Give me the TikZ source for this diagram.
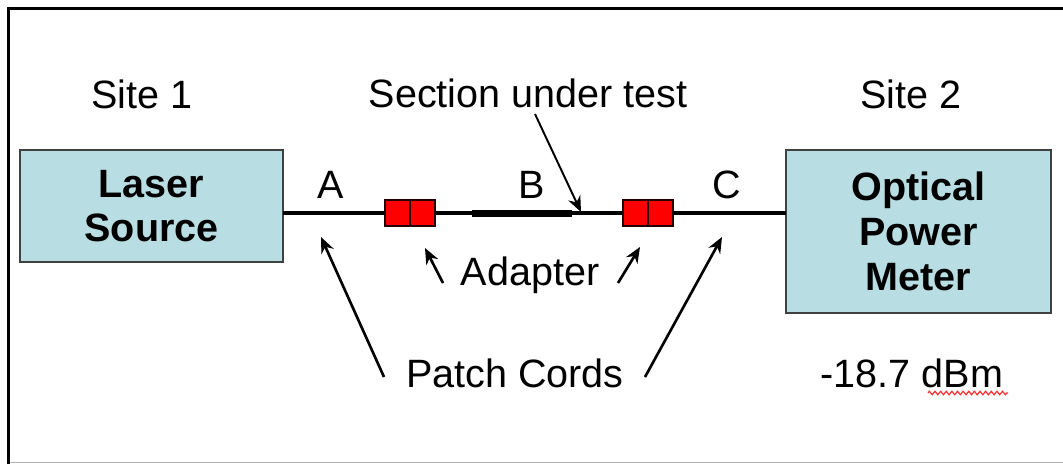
\documentclass[tikz,border=0pt]{standalone}
\usepackage{fontspec}
\setmainfont{Liberation Sans}
\usetikzlibrary{positioning, arrows.meta, decorations.pathmorphing}
\definecolor{boxblue}{RGB}{184,222,227}

\begin{document}
\begin{tikzpicture}[
  x=0.02cm, y=-0.02cm,
  font=\fontsize{22.5}{25.5}\selectfont,
  >={Stealth[length=9pt, width=7.5pt]},
  unit/.style={draw=black!75, line width=0.9pt, fill=boxblue, inner sep=0pt, outer sep=0pt,
    align=center, font=\fontsize{22.5}{25.5}\selectfont\bfseries},
  half/.style={draw=black!85!red, line width=0.8pt, fill=red, inner sep=0pt, outer sep=0pt,
    minimum width=0.5cm, minimum height=0.52cm},
  fiber/.style={line width=2.1pt},
  pointer/.style={->, line width=1.5pt},
  lbl/.style={anchor=base, inner sep=0pt},
]

% ---- page and frame ----
\useasboundingbox (0,0) rectangle (1063,464);
\fill[white] (0,0) rectangle (1063,464);
\draw[line width=1.7pt] (8.5,464) -- (8.5,8.5) -- (1063,8.5);
\draw[gray!60, line width=0.8pt] (10,462.5) -- (1063,462.5);

% ---- the two instruments ----
\node[unit, minimum width=5.26cm, minimum height=2.24cm] (laser) at (151.5,206) {Laser\\Source};
\node[unit, minimum width=5.3cm, minimum height=3.26cm] (meter) at (918.5,231.5) {Optical\\Power\\Meter};

% ---- adapters (two halves each) ----
\node[half] (adL1) at (397.5,213) {};
\node[half] (adL2) at (422.5,213) {};
\node[half] (adR1) at (635.5,213) {};
\node[half] (adR2) at (660.5,213) {};

% ---- fibre run ----
\coordinate (secL) at (472,213.5);
\coordinate (secR) at (572,213.5);
\draw[fiber] (laser.east |- adL1.west) -- (adL1.west);
\draw[fiber] (adL2.east) -- (adR1.west);
\draw[line width=3.6pt] (secL) -- (secR);
\draw[fiber] (adR2.east) -- (meter.west |- adR2.east);

% ---- labels ----
\node[lbl] (site1) at (142,108) {Site 1};
\node[lbl] (sut) at (528,107) {Section under test};
\node[lbl] (site2) at (911,108) {Site 2};
\node[lbl] (labA) at (331,198) {A};
\node[lbl] (labB) at (532,198) {B};
\node[lbl] (labC) at (727,198) {C};
\node[lbl] (adapt) at (530,285) {Adapter};
\node[lbl] (patch) at (515,387) {Patch Cords};
\node[lbl] (power) at (912,387) {-18.7 dBm};

% red wavy line under dBm
\coordinate (wavL) at (928,393);
\coordinate (wavR) at (1008,393);
\draw[red!80, line width=0.7pt, decorate, decoration={zigzag, amplitude=1pt, segment length=3.2pt}] (wavL) -- (wavR);

% ---- pointers ----
\coordinate (sutTail) at (535,114);
\coordinate (sutTip) at (581,212);
\coordinate (adTailL) at (443,283);
\coordinate (adTipL) at (425,248);
\coordinate (adTailR) at (618,283);
\coordinate (adTipR) at (640,247);
\coordinate (pcTailL) at (384,377);
\coordinate (pcTipL) at (321,237);
\coordinate (pcTailR) at (645,377);
\coordinate (pcTipR) at (722,237);

\draw[pointer, line width=1.1pt] (sutTail) -- (sutTip);
\draw[pointer] (adTailL) -- (adTipL);
\draw[pointer] (adTailR) -- (adTipR);
\draw[pointer] (pcTailL) -- (pcTipL);
\draw[pointer] (pcTailR) -- (pcTipR);

\end{tikzpicture}
\end{document}
